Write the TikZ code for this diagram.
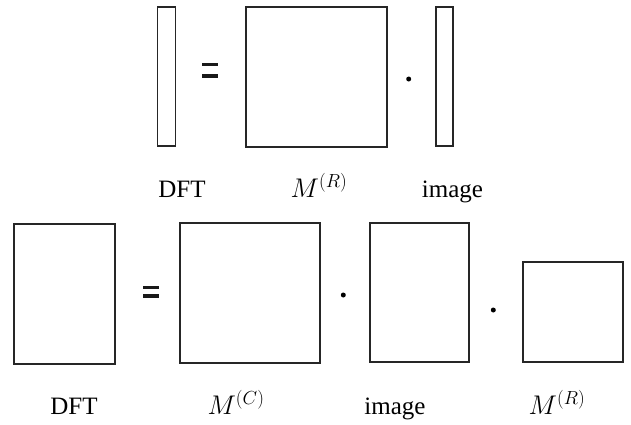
\RequirePackage{fix-cm}
\documentclass[tikz,border=0pt]{standalone}
\usepackage{fontspec}
\setmainfont{Liberation Serif}
\newfontfamily\lblfont{Liberation Serif}
\begin{document}
\begin{tikzpicture}[x=1pt,y=-1pt,
  mat/.style={draw=black!85,line width=1.9pt,inner sep=0pt,rectangle},
  lbl/.style={anchor=base,inner sep=0pt,font=\lblfont\fontsize{25}{30}\selectfont},
  mlbl/.style={anchor=base,inner sep=0pt,font=\fontsize{27}{32}\selectfont},
  eqbar/.style={fill=black!90,inner sep=0pt,minimum width=16pt,minimum height=3.8pt,rectangle},
  dotm/.style={circle,fill=black,inner sep=0pt,minimum size=5pt}]
\useasboundingbox (0,0) rectangle (631,424);
% top row
\node[mat,minimum width=18pt,minimum height=139pt] (t1) at (166.5,76.2) {};
\node[eqbar] (te1) at (209.7,64.4) {};
\node[eqbar] (te2) at (209.7,75.6) {};
\node[mat,minimum width=140.5pt,minimum height=140pt] (t2) at (316.3,76.7) {};
\node[dotm] (td) at (408.7,79) {};
\node[mat,minimum width=17.6pt,minimum height=139pt] (t3) at (444.5,76.2) {};
\node[lbl] (tl1) at (182,197) {DFT};
\node[mlbl] (tl2) at (319,197) {$M^{(R)}$};
\node[lbl] (tl3) at (452.5,197) {image};
% bottom row
\node[mat,minimum width=100.5pt,minimum height=140pt] (b1) at (64.5,294) {};
\node[eqbar] (be1) at (150.5,287.5) {};
\node[eqbar] (be2) at (150.5,296.3) {};
\node[mat,minimum width=140pt,minimum height=140pt] (b2) at (250.2,293.3) {};
\node[dotm] (bd1) at (343.3,295) {};
\node[mat,minimum width=99pt,minimum height=139.6pt] (b3) at (419.8,292.5) {};
\node[dotm] (bd2) at (493.3,310) {};
\node[mat,minimum width=100pt,minimum height=100pt] (b4) at (572.7,312.3) {};
\node[lbl] (bl1) at (74,414) {DFT};
\node[mlbl] (bl2) at (236,414) {$M^{(C)}$};
\node[lbl] (bl3) at (395,414) {image};
\node[mlbl] (bl4) at (557,414) {$M^{(R)}$};
\end{tikzpicture}
\end{document}
